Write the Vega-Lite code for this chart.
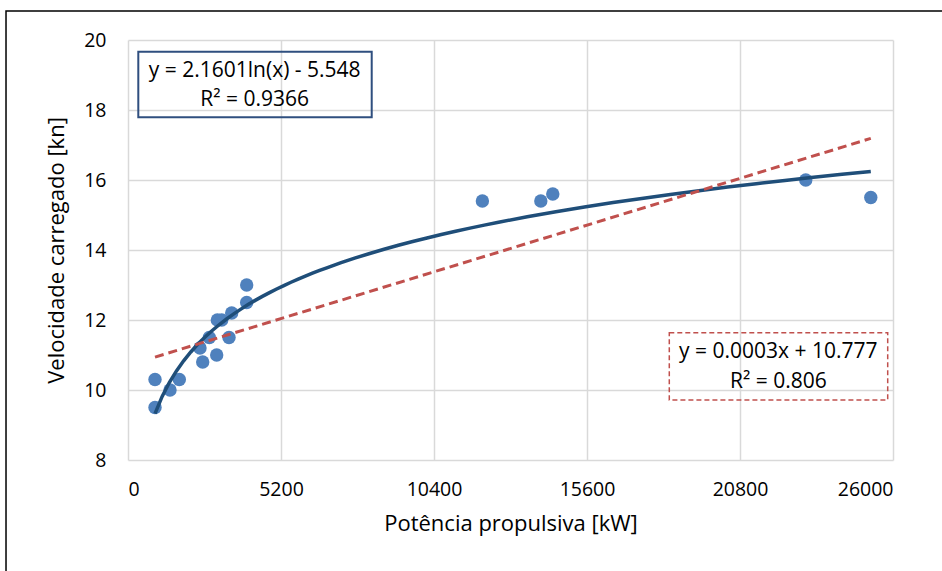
{
  "$schema": "https://vega.github.io/schema/vega-lite/v6.json",
  "width": 765,
  "height": 420,
  "autosize": {"type": "none"},
  "padding": {"left": 128, "top": 40, "right": 49, "bottom": 111},
  "background": "white",
  "config": {
    "view": {"stroke": null},
    "font": "Open Sans",
    "axis": {
      "grid": true,
      "gridColor": "#d9d9d9",
      "gridWidth": 1.5,
      "domain": false,
      "ticks": false,
      "tickSize": 0,
      "labelFont": "Open Sans",
      "labelColor": "#000000",
      "titleFont": "Open Sans",
      "titleColor": "#000000",
      "titleFontWeight": "normal"
    }
  },
  "layer": [
    {
      "data": {"values": [{}]},
      "mark": {"type": "rect", "filled": false, "stroke": "#000000", "strokeWidth": 1.5, "clip": false},
      "encoding": {
        "x": {"datum": -4146, "type": "quantitative", "scale": {"domain": [0, 26000], "nice": false, "zero": false}},
        "x2": {"datum": 28277},
        "y": {"datum": 20.829, "type": "quantitative", "scale": {"domain": [8, 20], "nice": false, "zero": false}},
        "y2": {"datum": 4.29}
      }
    },
    {
      "data": {
        "values": [
          {"x": 918, "y": 10.3},
          {"x": 918, "y": 9.5},
          {"x": 1428, "y": 10.0},
          {"x": 1744, "y": 10.3},
          {"x": 2447, "y": 11.2},
          {"x": 2539, "y": 10.8},
          {"x": 2765, "y": 11.5},
          {"x": 3014, "y": 11.0},
          {"x": 3037, "y": 12.0},
          {"x": 3185, "y": 12.0},
          {"x": 3433, "y": 11.5},
          {"x": 3524, "y": 12.2},
          {"x": 4034, "y": 12.5},
          {"x": 4034, "y": 13.0},
          {"x": 12044, "y": 15.4},
          {"x": 14030, "y": 15.4},
          {"x": 14437, "y": 15.6},
          {"x": 23035, "y": 16.0},
          {"x": 25245, "y": 15.5}
        ]
      },
      "layer": [
        {
          "mark": {"type": "circle", "size": 180, "color": "#4f81bd", "opacity": 1},
          "encoding": {
            "x": {
              "field": "x",
              "type": "quantitative",
              "scale": {"domain": [0, 26000], "nice": false, "zero": false},
              "axis": {
                "values": [0, 5200, 10400, 15600, 20800, 26000],
                "format": "d",
                "labelFontSize": 19.5,
                "labelPadding": 20,
                "title": "Potência propulsiva [kW]",
                "titleFontSize": 22,
                "titlePadding": 15
              }
            },
            "y": {
              "field": "y",
              "type": "quantitative",
              "scale": {"domain": [8, 20], "nice": false, "zero": false},
              "axis": {
                "values": [8, 10, 12, 14, 16, 18, 20],
                "labelFontSize": 19.5,
                "labelPadding": 22,
                "title": "Velocidade carregado [kn]",
                "titleFontSize": 22,
                "titlePadding": 15
              }
            }
          }
        },
        {
          "transform": [{"regression": "y", "on": "x", "method": "log"}],
          "mark": {"type": "line", "color": "#1f4e79", "strokeWidth": 3.5},
          "encoding": {
            "x": {"field": "x", "type": "quantitative"},
            "y": {"field": "y", "type": "quantitative"}
          }
        },
        {
          "transform": [{"regression": "y", "on": "x", "method": "linear"}],
          "mark": {"type": "line", "color": "#c0504d", "strokeWidth": 3, "strokeDash": [9, 5]},
          "encoding": {
            "x": {"field": "x", "type": "quantitative"},
            "y": {"field": "y", "type": "quantitative"}
          }
        }
      ]
    },
    {
      "data": {"values": [{}]},
      "mark": {"type": "rect", "filled": false, "stroke": "#2f4f7f", "strokeWidth": 2},
      "encoding": {
        "x": {"datum": 350, "type": "quantitative"},
        "x2": {"datum": 8283},
        "y": {"datum": 19.666, "type": "quantitative"},
        "y2": {"datum": 17.791}
      }
    },
    {
      "data": {"values": [{}]},
      "mark": {"type": "text", "fontSize": 21, "align": "center", "baseline": "alphabetic", "fill": "#000000"},
      "encoding": {
        "x": {"datum": 4306, "type": "quantitative"},
        "y": {"datum": 18.934, "type": "quantitative"},
        "text": {"value": "y = 2.1601ln(x) - 5.548"}
      }
    },
    {
      "data": {"values": [{}]},
      "mark": {"type": "text", "fontSize": 21, "align": "center", "baseline": "alphabetic", "fill": "#000000"},
      "encoding": {
        "x": {"datum": 4306, "type": "quantitative"},
        "y": {"datum": 18.123, "type": "quantitative"},
        "text": {"value": "R² = 0.9366"}
      }
    },
    {
      "data": {"values": [{}]},
      "mark": {"type": "rect", "filled": false, "stroke": "#c0504d", "strokeWidth": 1.5, "strokeDash": [5, 3]},
      "encoding": {
        "x": {"datum": 18397, "type": "quantitative"},
        "x2": {"datum": 25820},
        "y": {"datum": 11.637, "type": "quantitative"},
        "y2": {"datum": 9.714}
      }
    },
    {
      "data": {"values": [{}]},
      "mark": {"type": "text", "fontSize": 21, "align": "center", "baseline": "alphabetic", "fill": "#000000"},
      "encoding": {
        "x": {"datum": 22102, "type": "quantitative"},
        "y": {"datum": 10.906, "type": "quantitative"},
        "text": {"value": "y = 0.0003x + 10.777"}
      }
    },
    {
      "data": {"values": [{}]},
      "mark": {"type": "text", "fontSize": 21, "align": "center", "baseline": "alphabetic", "fill": "#000000"},
      "encoding": {
        "x": {"datum": 22102, "type": "quantitative"},
        "y": {"datum": 10.066, "type": "quantitative"},
        "text": {"value": "R² = 0.806"}
      }
    }
  ]
}
